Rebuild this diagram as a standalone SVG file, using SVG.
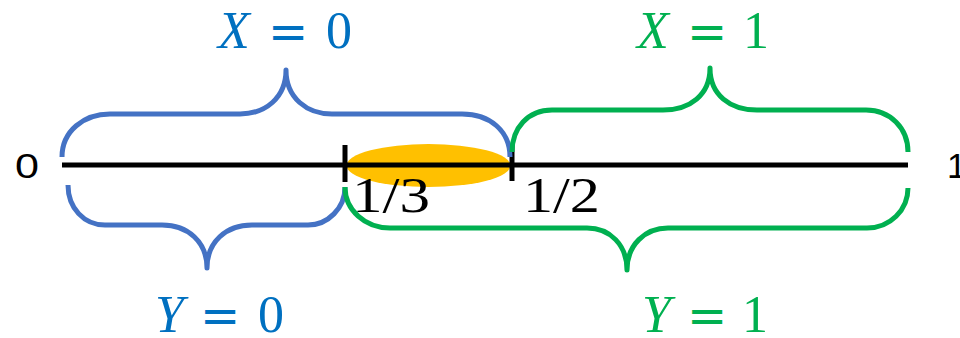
<svg xmlns="http://www.w3.org/2000/svg" width="960" height="338" viewBox="0 0 960 338">
<style>
.brace{fill:none;stroke-width:5;stroke-linecap:butt;stroke-linejoin:round}
.blue{stroke:#4472C4}
.green{stroke:#00B050}
.math{font-family:"Liberation Serif","DejaVu Serif",serif;font-size:52px}
.it{font-style:italic}
.eq{font-family:"DejaVu Sans",sans-serif;font-size:48px}
.tb{fill:#0070C0}
.tg{fill:#00B050}
.end{font-family:"Liberation Sans",Arial,sans-serif;font-size:35px;fill:#000}
.frac{font-family:"Liberation Serif","DejaVu Serif",serif;font-size:50px;fill:#000}
</style>
<rect width="960" height="338" fill="#fff"/>
<g id="highlight">
<ellipse cx="428.5" cy="165.5" rx="82" ry="21.5" fill="#FFC000"/>
</g>
<g id="axis">
<line x1="62" y1="165" x2="908" y2="165" stroke="#000" stroke-width="5"/>
<line x1="345" y1="145" x2="345" y2="182" stroke="#000" stroke-width="5"/>
<line x1="512" y1="145" x2="512" y2="181" stroke="#000" stroke-width="5"/>
<text class="end" x="15" y="178" textLength="24" lengthAdjust="spacingAndGlyphs">0</text>
<text class="end" x="947" y="178">1</text>
<text class="frac" x="352" y="212" textLength="78" lengthAdjust="spacingAndGlyphs">1/3</text>
<text class="frac" x="523" y="212" textLength="77" lengthAdjust="spacingAndGlyphs">1/2</text>
</g>
<g id="braces">
<path id="brace-x0" class="brace blue" d="M62,157 C62,131 84,114 110,114 L240,114 C265,114 286,98 286,70 C286,98 307,114 332,114 L462,114 C490,114 510,131 510,157"/>
<path id="brace-x1" class="brace green" d="M512,152 C512,128 528,110 552,110 L663,110 C690,110 710,95 710,68 C710,95 730,110 757,110 L866,110 C890,110 908,128 908,152"/>
<path id="brace-y0" class="brace blue" d="M68,185 C68,208 84,225 105,225 L162,225 C188,225 207,242 207,268 C207,242 226,225 252,225 L308,225 C328,225 345,208 345,187"/>
<path id="brace-y1" class="brace green" d="M345,187 C345,210 365,228 390,228 L587,228 C610,228 627,245 627,270 C627,245 645,228 668,228 L867,228 C890,228 908,210 908,188"/>
</g>
<g id="label-x0" class="math tb">
<text y="48"><tspan class="it" x="218">X</tspan><tspan class="eq" x="268">=</tspan><tspan x="326">0</tspan></text>
</g>
<g id="label-x1" class="math tg">
<text y="48"><tspan class="it" x="637">X</tspan><tspan class="eq" x="687">=</tspan><tspan x="743">1</tspan></text>
</g>
<g id="label-y0" class="math tb">
<text y="332"><tspan class="it" x="155">Y</tspan><tspan class="eq" x="200">=</tspan><tspan x="258">0</tspan></text>
</g>
<g id="label-y1" class="math tg">
<text y="332"><tspan class="it" x="642">Y</tspan><tspan class="eq" x="687">=</tspan><tspan x="742">1</tspan></text>
</g>
</svg>
